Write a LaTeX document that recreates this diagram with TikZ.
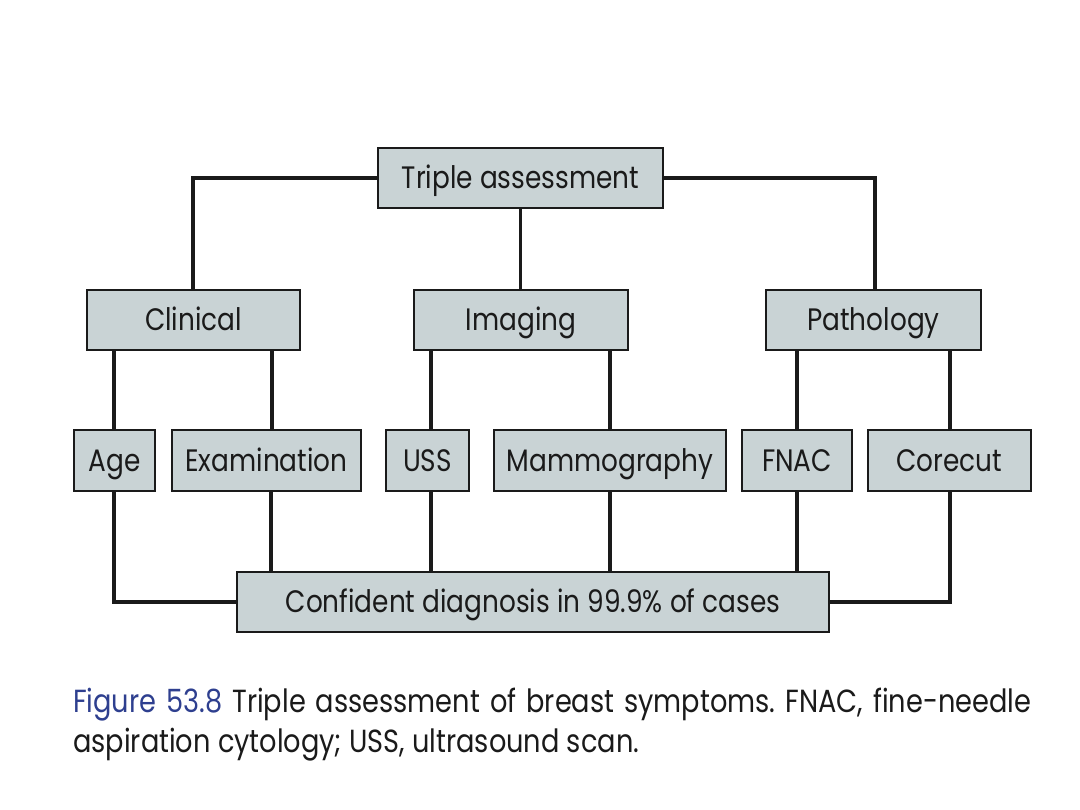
\documentclass[tikz,border=0pt]{standalone}
\usepackage{fontspec}
\setmainfont{Poppins}[FakeStretch=0.85]
\definecolor{boxfill}{HTML}{C9D3D5}
\definecolor{capblue}{HTML}{2E3F8F}
\definecolor{ink}{HTML}{1A1A1A}
\frenchspacing
\begin{document}
\begin{tikzpicture}[x=1pt,y=-1pt,
  box/.style={draw=ink,line width=2.4pt,fill=boxfill,inner sep=0pt,
    font=\fontsize{31}{36}\selectfont,text=ink,text height=21.5pt,text depth=0pt},
  conn/.style={draw=ink,line width=3.2pt},
  captxt/.style={anchor=base west,inner sep=0pt,font=\fontsize{32}{40}\selectfont,text=ink}]
\useasboundingbox (0,0) rectangle (1080,810);
\fill[white] (0,0) rectangle (1080,810);
\newcommand{\bx}[6]{\node[box,minimum width=#4pt-#2pt,minimum height=#5pt-#3pt] (#1) at ({(#2+#4)/2},{(#3+#5)/2}) {#6};}
\bx{ta}{378}{148}{663}{208}{Triple assessment}
\bx{cl}{87}{290}{300}{350}{Clinical}
\bx{im}{414}{290}{628}{350}{Imaging}
\bx{pa}{766}{290}{981}{350}{Pathology}
\bx{age}{74}{430}{155}{491}{Age}
\bx{ex}{172}{430}{361}{491}{Examination}
\bx{us}{386}{430}{469}{491}{USS}
\bx{ma}{494}{430}{726}{491}{Mammography}
\bx{fn}{742}{430}{852}{491}{FNAC}
\bx{co}{868}{430}{1031}{491}{Corecut}
\bx{cd}{237}{572}{829}{632}{Confident diagnosis in 99.9\% of cases}
% top level
\draw[conn] (ta.west) -| (cl.north -| 193,0);
\draw[conn] (ta.south) -- (im.north -| ta.south);
\draw[conn] (ta.east) -| (pa.north -| 875,0);
% second level
\draw[conn] (cl.south -| 114,0) -- (age.north -| 114,0);
\draw[conn] (cl.south -| 272,0) -- (ex.north -| 272,0);
\draw[conn] (im.south -| 431,0) -- (us.north -| 431,0);
\draw[conn] (im.south -| 610,0) -- (ma.north -| 610,0);
\draw[conn] (pa.south -| 797,0) -- (fn.north -| 797,0);
\draw[conn] (pa.south -| 950,0) -- (co.north -| 950,0);
% to bottom
\draw[conn] (age.south -| 114,0) |- (cd.west);
\draw[conn] (ex.south -| 271,0) -- (cd.north -| 271,0);
\draw[conn] (us.south -| 431,0) -- (cd.north -| 431,0);
\draw[conn] (ma.south -| 610,0) -- (cd.north -| 610,0);
\draw[conn] (fn.south -| 797,0) -- (cd.north -| 797,0);
\draw[conn] (co.south -| 950,0) |- (cd.east);
% caption
\node[captxt] (cap1) at (73,712)
  {\makebox[958pt][s]{\textcolor{capblue}{Figure 53.8} Triple assessment of breast symptoms. FNAC, fine-needle}};
\node[captxt] (cap2) at (73,752) {aspiration cytology; USS, ultrasound scan.};
\end{tikzpicture}
\end{document}
